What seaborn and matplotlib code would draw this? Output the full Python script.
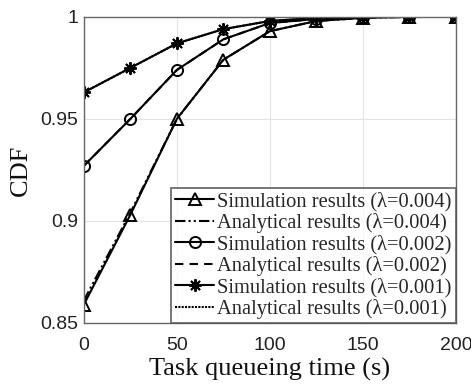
import numpy as np
import pandas as pd
import matplotlib
matplotlib.use("Agg")
import matplotlib.pyplot as plt
import seaborn as sns

t = [0, 25, 50, 75, 100, 125, 150, 175, 200]
sim_004 = [0.859, 0.903, 0.950, 0.979, 0.993, 0.998, 0.9995, 1.0, 1.0]
ana_004 = [0.861, 0.904, 0.950, 0.979, 0.993, 0.998, 0.9995, 1.0, 1.0]
sim_002 = [0.927, 0.950, 0.974, 0.989, 0.997, 0.999, 1.0, 1.0, 1.0]
ana_002 = [0.927, 0.950, 0.974, 0.989, 0.997, 0.999, 1.0, 1.0, 1.0]
sim_001 = [0.963, 0.975, 0.987, 0.994, 0.998, 0.9995, 1.0, 1.0, 1.0]
ana_001 = [0.963, 0.975, 0.987, 0.994, 0.998, 0.9995, 1.0, 1.0, 1.0]

labels = [
    "Simulation results (λ=0.004)",
    "Analytical results (λ=0.004)",
    "Simulation results (λ=0.002)",
    "Analytical results (λ=0.002)",
    "Simulation results (λ=0.001)",
    "Analytical results (λ=0.001)",
]
series = [sim_004, ana_004, sim_002, ana_002, sim_001, ana_001]
asterisk = (8, 2, 0)
styles = [
    dict(marker="^", linestyle="-"),
    dict(marker=None, linestyle=(0, (5, 1.5, 1, 1.5, 1, 1.5))),
    dict(marker="o", linestyle="-"),
    dict(marker=None, linestyle=(0, (4, 3))),
    dict(marker=asterisk, linestyle="-"),
    dict(marker=None, linestyle=(0, (1, 0.6))),
]

sns.set_theme(style="whitegrid")

fig, ax = plt.subplots(figsize=(4.71, 3.84), dpi=100)
fig.subplots_adjust(left=0.178, right=0.968, top=0.956, bottom=0.159)

for y, lab, st in zip(series, labels, styles):
    df = pd.DataFrame({"t": t, "cdf": y})
    sns.lineplot(data=df, x="t", y="cdf", ax=ax, color="black", lw=1.5,
                 linestyle=st["linestyle"], marker=st["marker"],
                 markersize=9 if st["marker"] is asterisk else 8,
                 markerfacecolor="none", markeredgecolor="black",
                 markeredgewidth=1.4, label=lab)

ax.set_xlim(0, 200)
ax.set_ylim(0.85, 1.0)
ax.set_xticks([0, 50, 100, 150, 200])
ax.set_yticks([0.85, 0.9, 0.95, 1.0])
ax.set_yticklabels(["0.85", "0.9", "0.95", "1"])
ax.grid(True, color="#e3e3e3", lw=0.8)
for s in ax.spines.values():
    s.set_color("#666666")
    s.set_linewidth(1.0)
ax.tick_params(axis="both", labelsize=14, colors="#666666", length=3,
               direction="in")
ax.tick_params(axis="x", pad=10)
ax.tick_params(axis="y", pad=4)
for lab in ax.get_xticklabels() + ax.get_yticklabels():
    lab.set_family("Liberation Sans")
    lab.set_color("#222222")

ax.set_xlabel("Task queueing time (s)", family="Liberation Serif", fontsize=19,
              color="#111111", labelpad=3)
ax.set_ylabel("CDF", family="Liberation Serif", fontsize=19, color="#111111",
              labelpad=6)

leg = ax.legend(loc="lower right", prop={"family": "Liberation Serif", "size": 14.8},
                frameon=True, fancybox=False, shadow=False, handlelength=1.9,
                handletextpad=0.15, borderpad=0.2, labelspacing=0.08,
                borderaxespad=0.0)
leg.get_frame().set_edgecolor("#555555")
leg.get_frame().set_linewidth(1.4)

fig.savefig("out.png", dpi=100)
